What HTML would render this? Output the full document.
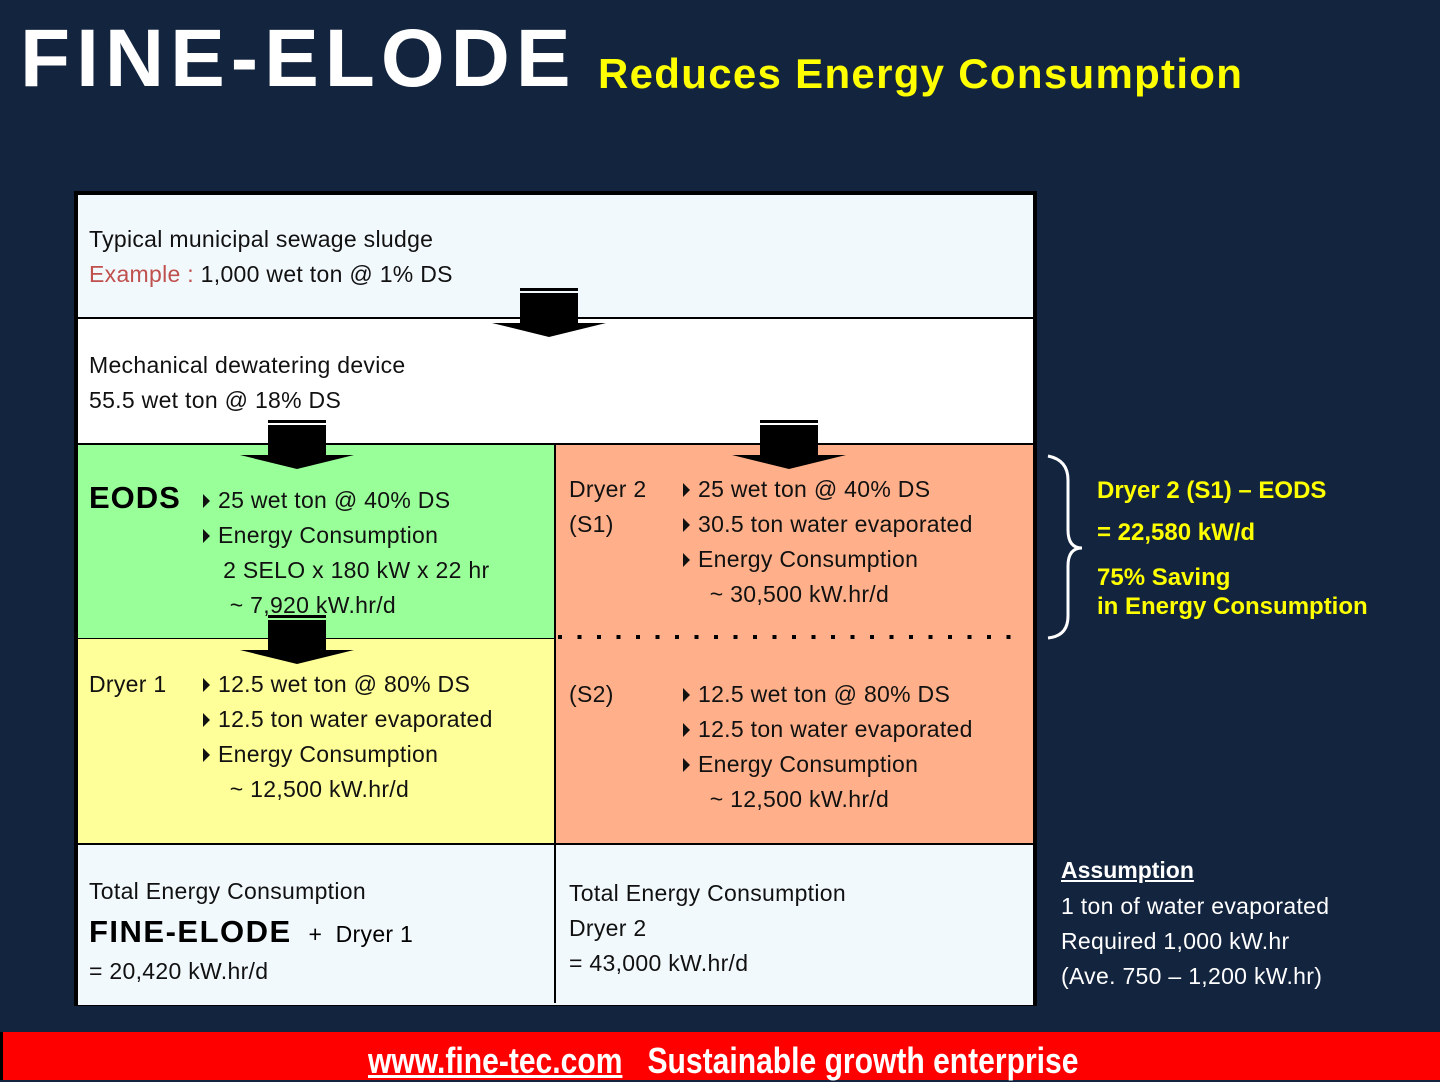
<!DOCTYPE html>
<html><head><meta charset="utf-8"><style>
body{margin:0;width:1440px;height:1080px;background:#13243f;position:relative;overflow:hidden;font-family:"Liberation Sans",sans-serif}
.a{position:absolute;white-space:nowrap}
.t{font-size:23px;color:#111;line-height:35px;letter-spacing:0.3px}
.tri{display:inline-block;width:0;height:0;border-left:7px solid #111;border-top:7px solid transparent;border-bottom:7px solid transparent;margin-right:8px;vertical-align:0}
.y{color:#ffff00;font-weight:bold;font-size:24px}
</style></head><body>
<div class="a" style="left:20px;top:12px;font-size:82px;font-weight:bold;color:#fff;letter-spacing:6px">FINE-ELODE</div>
<div class="a" style="left:598px;top:50px;font-size:42px;font-weight:bold;color:#ffff00;letter-spacing:1.3px">Reduces Energy Consumption</div>

<div class="a" style="left:74px;top:191px;width:955px;height:807px;border:4px solid #000;background:#fff"></div>
<div class="a" style="left:78px;top:195px;width:955px;height:122px;background:#f2f9fd;border-bottom:2px solid #000"></div>
<div class="a" style="left:78px;top:443px;width:476px;height:194px;background:#99ff99;border-top:2px solid #000;border-right:2px solid #000"></div>
<div class="a" style="left:78px;top:638px;width:476px;height:205px;background:#ffff99;border-top:1px solid #000;border-right:2px solid #000"></div>
<div class="a" style="left:556px;top:443px;width:477px;height:400px;background:#ffb08a;border-top:2px solid #000"></div>
<div class="a" style="left:78px;top:843px;width:955px;height:160px;background:#f2f9fd;border-top:2px solid #000"></div>
<div class="a" style="left:554px;top:845px;width:2px;height:158px;background:#000"></div>

<svg class="a" style="left:0;top:0" width="1440" height="1080">
<line x1="558" y1="637" x2="1025" y2="637" stroke="#000" stroke-width="4" stroke-dasharray="4 15.5"/>
<g><rect x="520" y="288" width="58" height="3"/><rect x="520" y="293" width="58" height="30"/><polygon points="492,323 606,323 549,337"/></g>
<g transform="translate(-252,132)"><rect x="520" y="288" width="58" height="3"/><rect x="520" y="293" width="58" height="30"/><polygon points="492,323 606,323 549,337"/></g>
<g transform="translate(240,132)"><rect x="520" y="288" width="58" height="3"/><rect x="520" y="293" width="58" height="30"/><polygon points="492,323 606,323 549,337"/></g>
<g transform="translate(-252,327)"><rect x="520" y="288" width="58" height="3"/><rect x="520" y="293" width="58" height="30"/><polygon points="492,323 606,323 549,337"/></g>
<path d="M1048,456 Q1068,460 1068,480 L1068,530 Q1068,548 1082,548 Q1068,548 1068,566 L1068,616 Q1068,636 1048,638" fill="none" stroke="#fff" stroke-width="3"/>
</svg>

<div class="a t" style="left:89px;top:222px">Typical municipal sewage sludge<br><span style="color:#c0504d">Example :</span> 1,000 wet ton @ 1% DS</div>
<div class="a t" style="left:89px;top:348px">Mechanical dewatering device<br>55.5 wet ton @ 18% DS</div>
<div class="a" style="left:89px;top:480px;font-size:31px;font-weight:bold;letter-spacing:1px">EODS</div>
<div class="a t" style="left:203px;top:483px"><span class="tri"></span>25 wet ton @ 40% DS<br><span class="tri"></span>Energy Consumption<br>&nbsp;&nbsp;&nbsp;2 SELO x 180 kW x 22 hr<br>&nbsp;&nbsp;&nbsp;&nbsp;~ 7,920 kW.hr/d</div>
<div class="a t" style="left:569px;top:472px">Dryer 2<br>(S1)</div>
<div class="a t" style="left:683px;top:472px"><span class="tri"></span>25 wet ton @ 40% DS<br><span class="tri"></span>30.5 ton water evaporated<br><span class="tri"></span>Energy Consumption<br>&nbsp;&nbsp;&nbsp;&nbsp;~ 30,500 kW.hr/d</div>
<div class="a t" style="left:89px;top:667px">Dryer 1</div>
<div class="a t" style="left:203px;top:667px"><span class="tri"></span>12.5 wet ton @ 80% DS<br><span class="tri"></span>12.5 ton water evaporated<br><span class="tri"></span>Energy Consumption<br>&nbsp;&nbsp;&nbsp;&nbsp;~ 12,500 kW.hr/d</div>
<div class="a t" style="left:569px;top:677px">(S2)</div>
<div class="a t" style="left:683px;top:677px"><span class="tri"></span>12.5 wet ton @ 80% DS<br><span class="tri"></span>12.5 ton water evaporated<br><span class="tri"></span>Energy Consumption<br>&nbsp;&nbsp;&nbsp;&nbsp;~ 12,500 kW.hr/d</div>
<div class="a t" style="left:89px;top:874px">Total Energy Consumption</div>
<div class="a" style="left:89px;top:914px;font-size:31px;font-weight:bold;letter-spacing:1.5px">FINE-ELODE <span style="font-weight:normal;font-size:23px;letter-spacing:0.3px">&nbsp;+&nbsp; Dryer 1</span></div>
<div class="a t" style="left:89px;top:954px">= 20,420 kW.hr/d</div>
<div class="a t" style="left:569px;top:876px">Total Energy Consumption<br>Dryer 2<br>= 43,000 kW.hr/d</div>

<div class="a y" style="left:1097px;top:477px">Dryer 2 (S1) – EODS</div>
<div class="a y" style="left:1097px;top:519px">= 22,580 kW/d</div>
<div class="a y" style="left:1097px;top:563px;line-height:29px">75% Saving<br>in Energy Consumption</div>
<div class="a" style="left:1061px;top:857px;font-size:23px;color:#fff;font-weight:bold;text-decoration:underline">Assumption</div>
<div class="a" style="left:1061px;top:889px;font-size:23px;color:#fff;line-height:35px;letter-spacing:0.3px">1 ton of water evaporated<br>Required 1,000 kW.hr<br>(Ave. 750 – 1,200 kW.hr)</div>

<div class="a" style="left:0;top:1032px;width:1440px;height:48px;background:#ff0000"></div>
<div class="a" style="left:0;top:1032px;width:3px;height:48px;background:#000"></div>
<div class="a" style="left:368px;top:1040px;font-size:36px;font-weight:bold;color:#fff;transform:scaleX(0.835);transform-origin:left"><span style="text-decoration:underline">www.fine-tec.com</span>&nbsp;&nbsp; Sustainable growth enterprise</div>
</body></html>
